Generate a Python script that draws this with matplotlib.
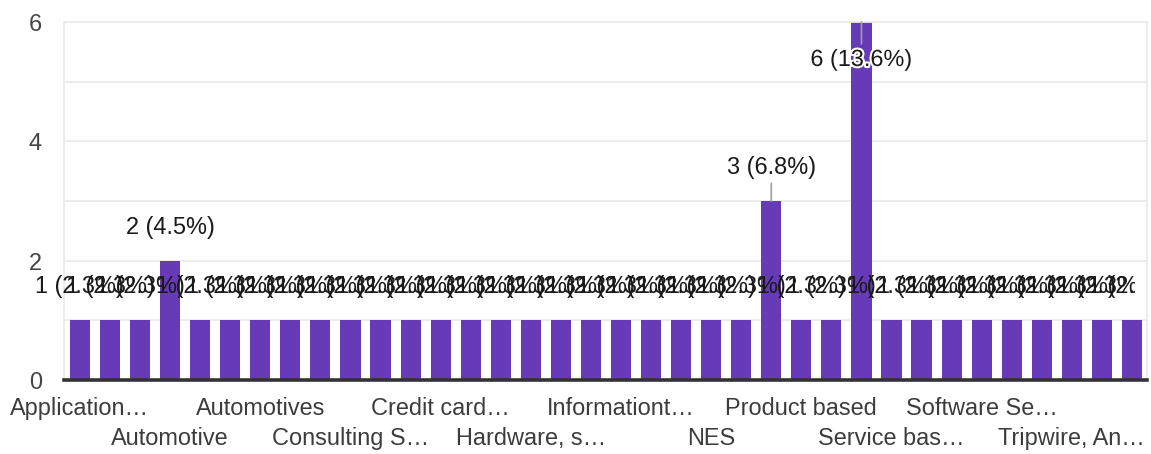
import matplotlib
matplotlib.use("Agg")
import matplotlib.pyplot as plt
import matplotlib.patheffects as pe
from matplotlib.transforms import Bbox

# Responses per industry / domain (counts)
categories = [
    "Application…", "Artificial I…", "Audit", "Automotive", "Automotive…",
    "Automobile…", "Automotives", "Banking", "BFSI", "Consulting S…",
    "Consulting", "Construction", "Credit card…", "E-commerce", "Education",
    "Hardware, s…", "Healthcare", "IT services", "Informationt…", "Insurance",
    "Manufacturing", "NES", "Networking", "Product", "Product based",
    "Retail", "Service based", "Service bas…", "Semiconductor", "Services",
    "Software Se…", "Software", "Telecom", "Tripwire, An…", "Telecommuni…",
    "Other",
]
counts = [1, 1, 1, 2, 1, 1, 1, 1, 1, 1, 1, 1, 1, 1, 1, 1, 1, 1,
          1, 1, 1, 1, 1, 3, 1, 1, 6, 1, 1, 1, 1, 1, 1, 1, 1, 1]
y_ticks = [0, 2, 4, 6]
label_every = 3

total = sum(counts)
plt.rcParams["font.family"] = ["Liberation Sans", "DejaVu Sans"]
FS = 16.9

fig = plt.figure(figsize=(11.51, 4.54), dpi=100)
ax = fig.add_axes([64 / 1151, 1 - 380 / 454, (1147 - 64) / 1151, (380 - 22) / 454])

x = list(range(len(counts)))
ax.bar(x, counts, width=0.67, color="#673ab7", zorder=2)

ax.set_xlim(-0.53, len(counts) - 0.5)
ax.set_ylim(0, 6)

# grid and frame
for g in range(0, 7):
    ax.axhline(g, color="#ebebeb", lw=1.3, zorder=0)
for side in ("left", "right", "top"):
    ax.spines[side].set_color("#ebebeb")
    ax.spines[side].set_linewidth(1.3)
ax.spines["bottom"].set_color("#333333")
ax.spines["bottom"].set_linewidth(2.6)
ax.spines["bottom"].set_zorder(3)

ax.set_yticks(y_ticks)
ax.set_yticklabels([str(t) for t in y_ticks], fontsize=FS, color="#444444")
ax.tick_params(axis="y", length=0, pad=16)
ax.set_xticks([])

# category labels on two staggered rows
for k, i in enumerate(range(0, len(categories), label_every)):
    off = -20.5 if k % 2 == 0 else -42
    ax.annotate(categories[i], xy=(i, 0), xycoords=("data", "axes fraction"),
                xytext=(0, off), textcoords="offset points",
                ha="center", va="center", fontsize=FS, color="#3c3c3c",
                annotation_clip=False)

# value labels, clipped just inside the plot's right edge
label_clip = Bbox.from_extents(0, 0, 1135, 454)
for i, v in enumerate(counts):
    txt = f"{v} ({v / total * 100:.1f}%)"
    inside = v >= ax.get_ylim()[1]
    dy = -27 if inside else 24
    kw = {}
    if v >= 3:
        kw["arrowprops"] = dict(arrowstyle="-", color="#9e9e9e", lw=1.2,
                                shrinkA=1, shrinkB=0)
    t = ax.annotate(txt, xy=(i, v), xytext=(0, dy), textcoords="offset points",
                    ha="center", va="center", fontsize=FS, color="#1a1a1a",
                    zorder=5, annotation_clip=False, **kw)
    if inside:
        t.set_path_effects([pe.withStroke(linewidth=3, foreground="white")])
    t.set_clip_box(label_clip)
    t.set_clip_on(True)

fig.savefig("out.png", dpi=100)
